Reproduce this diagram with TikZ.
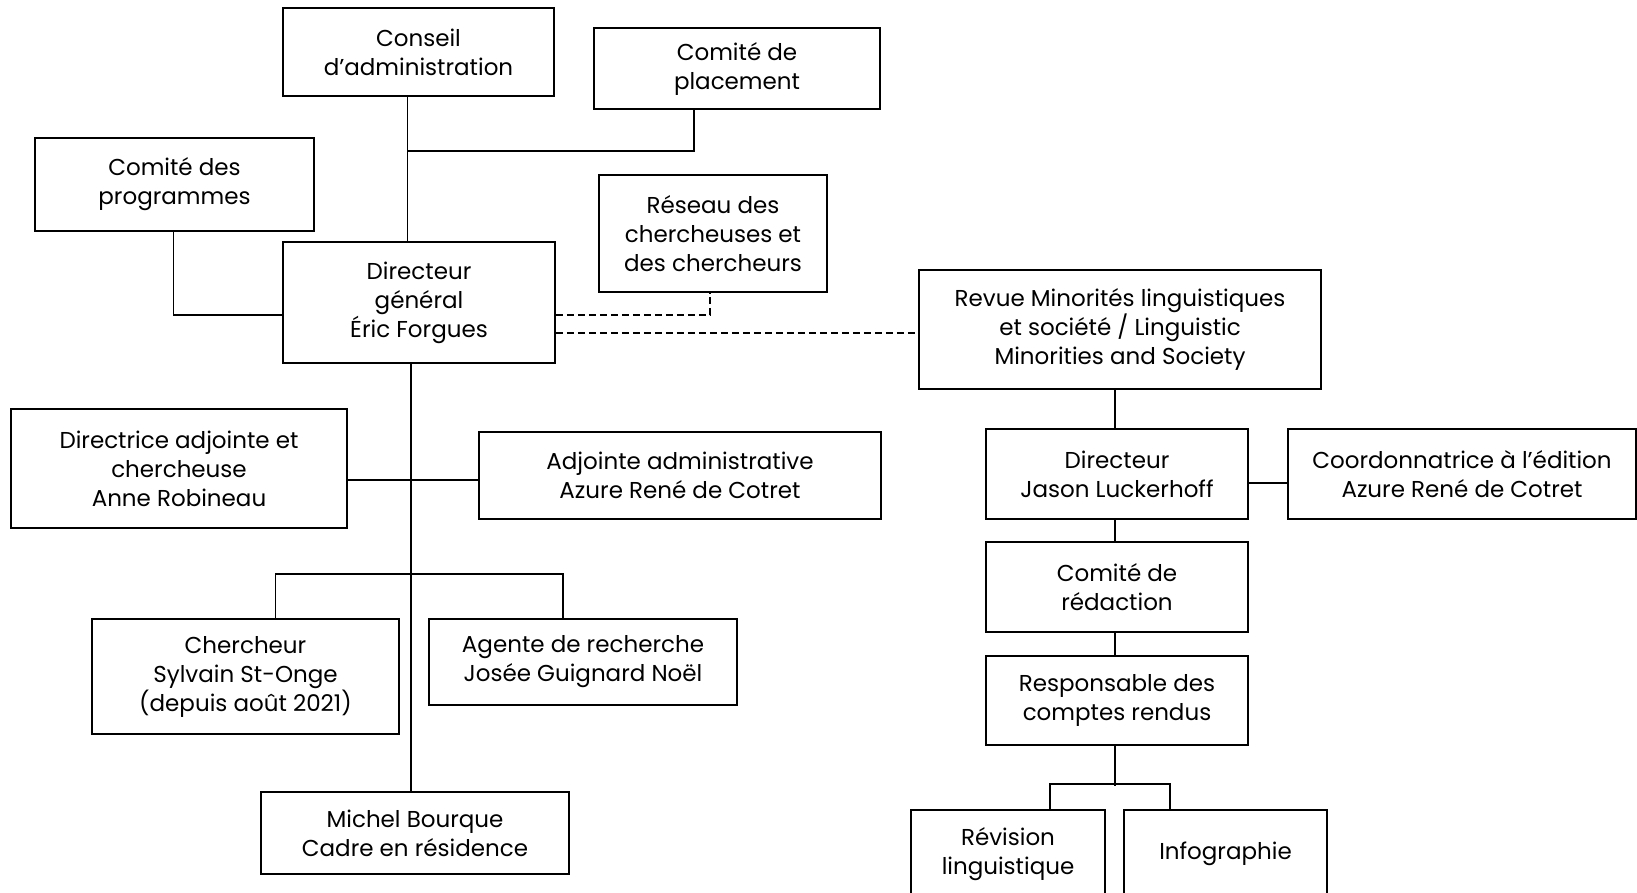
\documentclass[tikz,border=0pt]{standalone}
\usepackage{fontspec}
\setmainfont{Poppins}
\usepackage{tikz}
\usetikzlibrary{positioning,calc}

\begin{document}
\begin{tikzpicture}[x=1pt, y=-1pt,
    box/.style={draw, line width=1.6pt, align=center, inner sep=2pt,
        font=\fontsize{23}{29}\selectfont},
    link/.style={line width=1.6pt},
    dotlink/.style={line width=1.6pt, dashed, dash pattern=on 7pt off 4pt}]
    \useasboundingbox (0,0) rectangle (1637,893);
    % conseil et comites
    \node[box, minimum width=271pt, minimum height=88pt] (conseil) at (418.5,52) {Conseil\\d’administration};
    \node[box, minimum width=286pt, minimum height=81pt] (placement) at (737,68.5) {Comité de\\placement};
    \node[box, minimum width=279pt, minimum height=93pt] (programmes) at (174.5,184.5) {Comité des\\programmes};
    \node[box, minimum width=272pt, minimum height=121pt] (dg) at (419,302.5) {Directeur\\général\\Éric Forgues};
    \node[box, minimum width=228pt, minimum height=117pt] (reseau) at (713,233.5) {Réseau des\\chercheuses et\\des chercheurs};
    % equipe
    \node[box, minimum width=336pt, minimum height=119pt] (directrice) at (179,468.5) {Directrice adjointe et\\chercheuse\\Anne Robineau};
    \node[box, minimum width=402pt, minimum height=87pt] (adjointe) at (680,475.5) {Adjointe administrative\\Azure René de Cotret};
    \node[box, minimum width=307pt, minimum height=115pt] (chercheur) at (245.5,676.5) {Chercheur\\Sylvain St-Onge\\(depuis août 2021)};
    \node[box, minimum width=308pt, minimum height=86pt] (agente) at (583,662) {Agente de recherche\\Josée Guignard Noël};
    \node[box, minimum width=308pt, minimum height=82pt] (michel) at (415,833) {Michel Bourque\\Cadre en résidence};
    % revue
    \node[box, minimum width=402pt, minimum height=119pt] (revue) at (1120,329.5) {Revue Minorités linguistiques\\et société / Linguistic\\Minorities and Society};
    \node[box, minimum width=262pt, minimum height=90pt] (jl) at (1117,474) {Directeur\\Jason Luckerhoff};
    \node[box, minimum width=348pt, minimum height=90pt] (coord) at (1462,474) {Coordonnatrice à l’édition\\Azure René de Cotret};
    \node[box, minimum width=262pt, minimum height=90pt] (redaction) at (1117,587) {Comité de\\rédaction};
    \node[box, minimum width=262pt, minimum height=89pt] (responsable) at (1117,700.5) {Responsable des\\comptes rendus};
    \node[box, minimum width=194pt, minimum height=88pt] (revision) at (1008,854) {Révision\\linguistique};
    \node[box, minimum width=203pt, minimum height=88pt] (infographie) at (1225.5,854) {Infographie};

    % liens
    \draw[link] ([xshift=-11pt]conseil.south) -- ([xshift=-11pt]conseil.south |- dg.north);
    \coordinate (j1) at ([xshift=-11pt]conseil.south |- 0,151);
    \draw[link] (j1) -| ([xshift=-43pt]placement.south);
    \draw[link] ([xshift=-1pt]programmes.south) |- ([yshift=-12.5pt]dg.west);
    \draw[dotlink] ([yshift=-12.5pt]dg.east) -| ([xshift=-3pt]reseau.south);
    \draw[dotlink] ([yshift=-30.5pt]dg.east) coordinate (d2) -- (d2 -| revue.west);
    \draw[link] ([xshift=-8pt]dg.south) coordinate (d3) -- (d3 |- michel.north);
    \draw[link] ([yshift=-11.5pt]directrice.east) coordinate (d4) -- (d4 -| adjointe.west);
    \draw[link] ([xshift=30pt]chercheur.north) -- ++(0,-44) -| ([xshift=-20pt]agente.north);
    \draw[link] ([xshift=-2pt]jl.north) coordinate (r1) -- (r1 |- revue.south);
    \draw[link] ([yshift=-9pt]jl.east) coordinate (r2) -- (r2 -| coord.west);
    \draw[link] ([xshift=-2pt]jl.south) coordinate (r3) -- (r3 |- redaction.north);
    \draw[link] ([xshift=-2pt]redaction.south) coordinate (r4) -- (r4 |- responsable.north);
    \draw[link] ([xshift=-2pt]responsable.south) -- ++(0,40);
    \draw[link] ([xshift=42pt]revision.north) -- ++(0,-25) -| ([xshift=-55.5pt]infographie.north);
\end{tikzpicture}
\end{document}
